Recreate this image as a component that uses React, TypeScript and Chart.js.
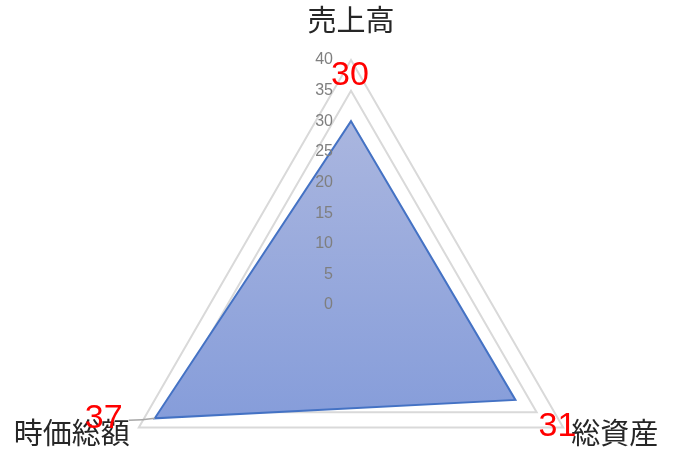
import { useEffect, useRef } from 'react'
import { Chart, registerables } from 'chart.js'

Chart.register(...registerables)

const categories = ['売上高', '総資産', '時価総額']
const values = [30, 31, 37]
const tickValues = [0, 5, 10, 15, 20, 25, 30, 35, 40]

// where Excel put the (dragged) data labels, relative to each point
const labelOffsets = [
  { dx: -1, dy: -46 },
  { dx: 42, dy: 27 },
  { dx: -51, dy: 0 }
]

const labelPlugin = {
  id: 'excelLabels',
  afterDatasetsDraw(chart: any) {
    const ctx = chart.ctx as CanvasRenderingContext2D
    const scale = chart.scales.r
    const cx = scale.xCenter
    const cy = scale.yCenter
    ctx.save()

    // tick labels to the left of the vertical axis
    ctx.fillStyle = '#7f7f7f'
    ctx.font = '16px "Liberation Sans", sans-serif'
    ctx.textAlign = 'right'
    ctx.textBaseline = 'middle'
    tickValues.forEach((v) => {
      const d = scale.getDistanceFromCenterForValue(v)
      ctx.fillText(String(v), cx - 18, cy - d)
    })

    // category labels
    ctx.fillStyle = '#262626'
    ctx.font = '29px "Noto Sans CJK JP", sans-serif'
    ctx.textBaseline = 'middle'
    const outer = scale.drawingArea
    ctx.textAlign = 'center'
    ctx.fillText(categories[0], cx, cy - outer - 40)
    ctx.textAlign = 'left'
    ctx.fillText(categories[1], cx + outer * 0.866 + 8, cy + outer * 0.5 + 5)
    ctx.textAlign = 'right'
    ctx.fillText(categories[2], cx - outer * 0.866 - 9, cy + outer * 0.5 + 5)

    // leader line for the dragged label
    const pts = chart.getDatasetMeta(0).data
    const p2 = pts[2]
    ctx.strokeStyle = '#a6a6a6'
    ctx.lineWidth = 1.5
    ctx.beginPath()
    ctx.moveTo(p2.x, p2.y)
    ctx.quadraticCurveTo(p2.x - 12, p2.y + 2, p2.x - 26, p2.y + 2)
    ctx.stroke()

    // data labels
    ctx.fillStyle = '#ff0000'
    ctx.font = '34px "Liberation Sans", sans-serif'
    ctx.textAlign = 'center'
    ctx.textBaseline = 'middle'
    pts.forEach((p: any, i: number) => {
      ctx.fillText(String(values[i]), p.x + labelOffsets[i].dx, p.y + labelOffsets[i].dy)
    })

    ctx.restore()
  }
}

export default function App() {
  const chartRef = useRef<HTMLCanvasElement | null>(null)
  const chartInstance = useRef<Chart | null>(null)

  useEffect(() => {
    if (chartInstance.current) {
      chartInstance.current.destroy()
    }
    const ctx = chartRef.current?.getContext('2d')
    if (!ctx) return

    chartInstance.current = new Chart(ctx, {
      type: 'radar',
      data: {
        labels: categories,
        datasets: [
          {
            data: values,
            fill: true,
            backgroundColor: (c: any) => {
              const scale = c.chart.scales.r
              if (!scale || !scale.drawingArea) return 'rgb(152,170,220)'
              const g = c.chart.ctx.createLinearGradient(
                0,
                scale.yCenter - scale.drawingArea * 0.75,
                0,
                scale.yCenter + scale.drawingArea * 0.46
              )
              g.addColorStop(0, 'rgb(170,182,223)')
              g.addColorStop(1, 'rgb(134,157,218)')
              return g
            },
            borderColor: '#4472c4',
            borderWidth: 2,
            pointRadius: 0,
            pointHoverRadius: 0,
            tension: 0
          }
        ]
      },
      options: {
        animation: false,
        responsive: true,
        maintainAspectRatio: false,
        layout: { padding: 0 },
        plugins: {
          legend: { display: false },
          tooltip: { enabled: false }
        },
        scales: {
          r: {
            min: 0,
            max: 40,
            ticks: { stepSize: 5, display: false },
            grid: { color: '#d9d9d9', lineWidth: 2 },
            angleLines: { display: false },
            pointLabels: { display: false },
            afterFit: (scale: any) => {
              scale.xCenter = 351
              scale.yCenter = 305
              scale.drawingArea = 245
            }
          }
        }
      },
      plugins: [labelPlugin]
    })

    return () => {
      if (chartInstance.current) {
        chartInstance.current.destroy()
        chartInstance.current = null
      }
    }
  }, [])

  return (
    <div style={{ position: 'fixed', left: 0, top: 0, width: 676, height: 463, background: '#fff' }}>
      <canvas ref={chartRef}></canvas>
    </div>
  )
}
